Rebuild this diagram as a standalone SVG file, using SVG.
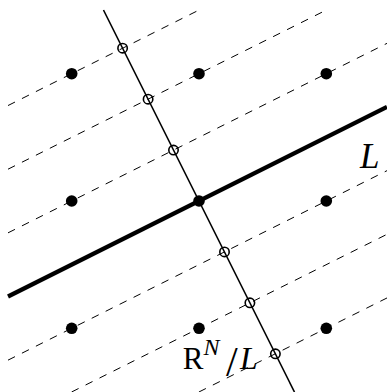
<svg xmlns="http://www.w3.org/2000/svg" width="387" height="392" viewBox="0 0 387 392">
  <style>
    .dash { stroke: #000; stroke-width: 1; stroke-dasharray: 7.8 7.8; fill: none; }
    .thin { stroke: #000; stroke-width: 1.6; fill: none; }
    .thick { stroke: #000; stroke-width: 4.2; fill: none; }
    .dot { fill: #000; }
    .ring { fill: none; stroke: #000; stroke-width: 1.6; }
    .lbl { font-family: "Liberation Serif", "Times New Roman", serif; fill: #000; }
  </style>
  <rect width="387" height="392" fill="#fff"/>
  <g id="connectors">
    <line class="dash" x1="8" y1="105.55" x2="199.1" y2="10"/>
    <line class="dash" x1="8" y1="169.2" x2="326.4" y2="10"/>
    <line class="dash" x1="8" y1="232.85" x2="387" y2="43.35"/>
    <line class="dash" x1="8" y1="360.15" x2="387" y2="170.65"/>
    <line class="dash" x1="71.6" y1="392" x2="387" y2="234.3"/>
    <line class="dash" x1="198.9" y1="392" x2="387" y2="297.95"/>
    <line id="perp" class="thin" x1="103.5" y1="10" x2="294.5" y2="392"/>
    <line id="lineL" class="thick" x1="8" y1="296.5" x2="387" y2="107"/>
  </g>
  <g id="lattice">
    <circle id="p00" class="dot" cx="71.7" cy="73.7" r="5.8"/>
    <circle id="p10" class="dot" cx="199" cy="73.7" r="5.8"/>
    <circle id="p20" class="dot" cx="326.3" cy="73.7" r="5.8"/>
    <circle id="p01" class="dot" cx="71.7" cy="201" r="5.8"/>
    <circle id="p11" class="dot" cx="199" cy="201" r="5.8"/>
    <circle id="p21" class="dot" cx="326.3" cy="201" r="5.8"/>
    <circle id="p02" class="dot" cx="71.7" cy="328.3" r="5.8"/>
    <circle id="p12" class="dot" cx="199" cy="328.3" r="5.8"/>
    <circle id="p22" class="dot" cx="326.3" cy="328.3" r="5.8"/>
  </g>
  <g id="projections">
    <circle id="q-3" class="ring" cx="122.6" cy="48.2" r="4.7"/>
    <circle id="q-2" class="ring" cx="148.1" cy="99.2" r="4.7"/>
    <circle id="q-1" class="ring" cx="173.5" cy="150.1" r="4.7"/>
    <circle id="q1" class="ring" cx="224.5" cy="251.9" r="4.7"/>
    <circle id="q2" class="ring" cx="249.9" cy="302.8" r="4.7"/>
    <circle id="q3" class="ring" cx="275.4" cy="353.8" r="4.7"/>
  </g>
  <g id="label-L">
    <text class="lbl" x="360" y="168.3" font-size="35" font-style="italic">L</text>
  </g>
  <g id="label-quotient">
    <text class="lbl" y="369"><tspan x="182.8" font-size="31">R</tspan><tspan x="203.5" y="355" font-size="24" font-style="italic">N</tspan><tspan x="226" y="376" font-size="42">/</tspan><tspan x="240" y="369" font-size="32" font-style="italic">L</tspan></text>
  </g>
</svg>
